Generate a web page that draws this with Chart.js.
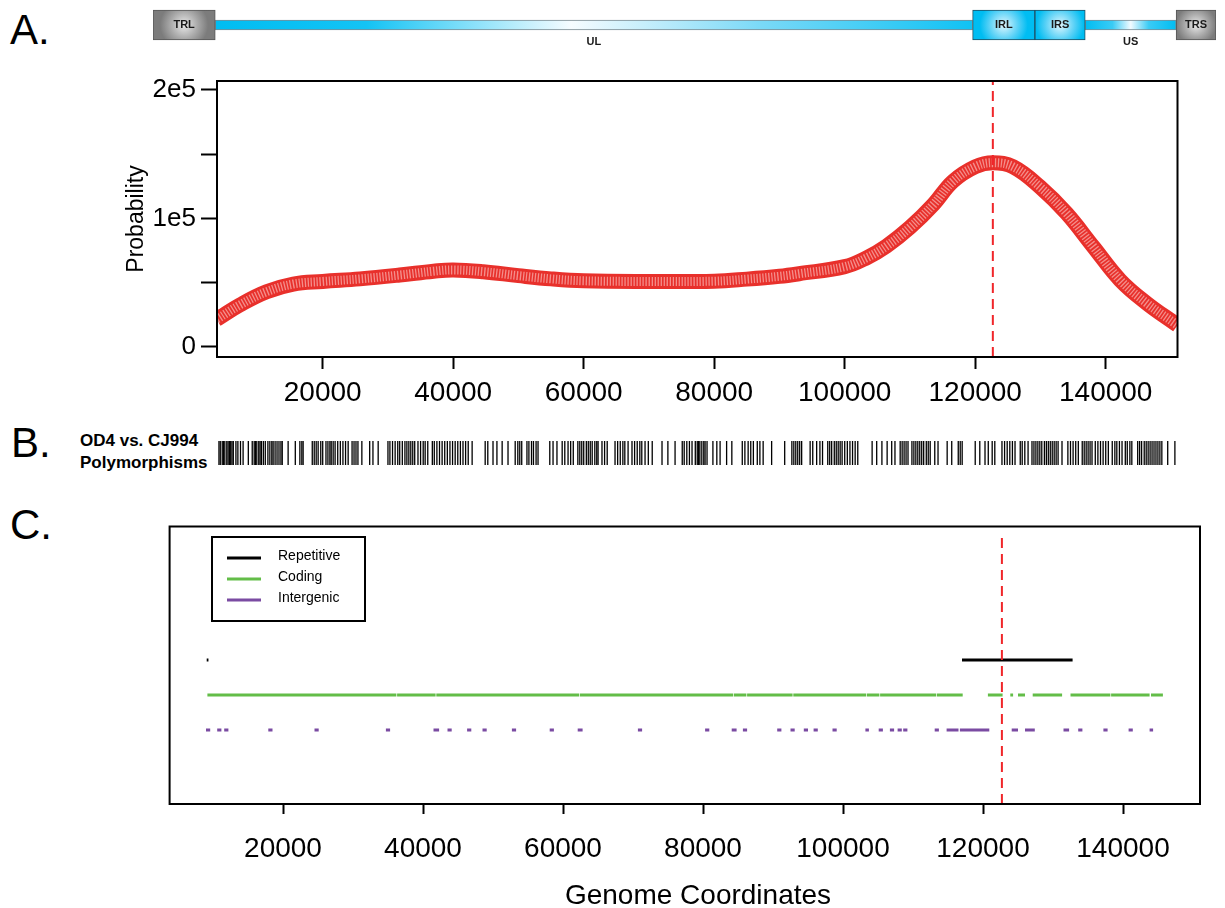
<!DOCTYPE html>
<html>
<head>
<meta charset="utf-8">
<script src="https://cdn.jsdelivr.net/npm/chart.js@4.4.1/dist/chart.umd.min.js"></script>
<style>
  html, body { margin: 0; padding: 0; background: #fff; }
  body { width: 1225px; height: 908px; position: relative; overflow: hidden; font-family: "Liberation Sans", Arial, sans-serif; }
  canvas { position: absolute; }
  .tag { position: absolute; font-size: 42px; line-height: 42px; color: #000; }
  .blabel { position: absolute; left: 80px; top: 430px; font-size: 17px; line-height: 22px; font-weight: bold; color: #000; }
</style>
</head>
<body>
<div class="tag" style="left:10px; top:9px">A.</div>
<div class="tag" style="left:11px; top:422px">B.</div>
<div class="tag" style="left:10px; top:504px">C.</div>
<div class="blabel">OD4 vs. CJ994<br>Polymorphisms</div>
<canvas id="mapChart" width="1085" height="50" style="left:140px; top:0px"></canvas>
<canvas id="densityChart" width="1225" height="360" style="left:0px; top:60px"></canvas>
<canvas id="polyChart" width="1225" height="60" style="left:0px; top:425px"></canvas>
<canvas id="featureChart" width="1225" height="388" style="left:0px; top:520px"></canvas>
<script>
// genome map (schematic, bp)
const mapRegions = ['TRL', 'UL', 'IRL', 'IRS', 'US', 'TRS'];
const mapEdges = [0, 8900, 117200, 126100, 133300, 146300, 152000];
const mapKinds = ['terminal', 'unique', 'inverted', 'inverted', 'unique', 'terminal'];

// density curve
const densityX = [3800, 4000, 7300, 11400, 15500, 20000, 25700, 31800, 37000, 40000, 44600, 50000, 55000, 60000,
                  70000, 80000, 85000, 90000, 93000, 100000, 103400, 106400, 110000, 113600, 116600, 120000,
                  122700, 125800, 129900, 134000, 138100, 142200, 146300, 150600, 151000];
const densityY = [21800, 22300, 32700, 43000, 49000, 51000, 53000, 56000, 59000, 60000, 58600, 55500, 53000, 51500,
                  51000, 51200, 52800, 55000, 57000, 62500, 69500, 78500, 93000, 111000, 129000, 140300,
                  143400, 140300, 124700, 104000, 78000, 52100, 34000, 18400, 17000];

const probTicks = [0, 50000, 100000, 150000, 200000];
const probTickLabels = ['0', '', '1e5', '', '2e5'];
const coordTicks = [20000, 40000, 60000, 80000, 100000, 120000, 140000];
const coordTickLabels = ['20000', '40000', '60000', '80000', '100000', '120000', '140000'];
const cutSite = 122700;

// polymorphism positions (kb), panel B
const polyKb = [4.1, 4.3, 4.6, 4.8, 5.0, 5.3, 5.5, 5.7, 5.9, 6.1, 6.3, 6.7, 7.0, 7.4, 7.8, 8.6, 9.2, 9.5, 9.7, 9.9,
  10.2, 10.4, 10.6, 10.9, 11.2, 11.6, 11.9, 12.2, 12.4, 12.7, 13.0, 13.3, 13.6, 13.8, 14.7, 15.8, 16.5, 16.8, 17.0,
  18.4, 18.7, 19.0, 19.3, 19.7, 20.0, 20.5, 20.8, 21.1, 21.3, 21.6, 21.9, 22.3, 22.7, 23.1, 23.5, 23.9, 24.5, 24.8,
  25.1, 25.4, 26.0, 27.2, 27.7, 28.5, 30.0, 30.3, 30.7, 31.1, 31.5, 31.8, 32.2, 32.6, 32.9, 33.2, 33.5, 33.8, 34.1,
  34.6, 35.0, 35.4, 35.7, 36.1, 36.8, 37.1, 37.5, 37.9, 38.3, 38.7, 39.1, 39.5, 39.9, 40.3, 40.7, 41.1, 41.5, 41.9,
  42.3, 42.9, 44.9, 45.3, 46.1, 46.7, 47.5, 48.4, 49.5, 49.9, 50.2, 50.5, 51.3, 51.6, 52.0, 52.3, 52.7, 53.0, 54.8,
  55.3, 55.9, 56.7, 57.1, 57.6, 58.0, 58.4, 59.1, 59.4, 59.7, 60.0, 60.4, 60.7, 61.0, 61.3, 61.7, 62.0, 62.2, 62.8,
  63.2, 63.6, 64.8, 65.2, 65.6, 66.0, 66.3, 66.8, 67.4, 67.8, 68.2, 68.6, 68.9, 69.4, 69.9, 70.5, 72.0, 72.9, 74.0,
  75.1, 75.4, 75.8, 76.2, 76.6, 77.1, 77.4, 77.6, 77.8, 78.1, 78.4, 78.6, 78.9, 79.8, 80.4, 80.9, 81.9, 82.7, 84.3,
  84.7, 85.2, 85.6, 86.0, 86.6, 87.0, 87.5, 88.8, 90.8, 91.9, 92.2, 92.5, 92.8, 93.1, 93.4, 94.7, 95.1, 95.7, 96.2,
  96.6, 97.4, 97.7, 98.0, 98.4, 98.7, 99.0, 99.3, 99.6, 100.0, 100.4, 100.8, 101.2, 101.6, 102.0, 104.2, 104.9,
  105.7, 106.5, 107.2, 107.7, 108.5, 108.8, 109.1, 109.4, 109.7, 110.3, 110.6, 110.9, 111.2, 111.5, 111.8, 112.1,
  112.5, 112.8, 113.1, 113.8, 114.3, 115.7, 116.4, 117.4, 117.7, 118.0, 120.0, 120.7, 121.5, 122.0, 122.6, 123.0,
  124.1, 124.5, 124.9, 125.3, 125.7, 126.1, 126.9, 127.2, 127.6, 128.1, 128.7, 129.0, 129.3, 129.6, 129.9, 130.2,
  130.6, 130.9, 131.2, 131.5, 131.8, 132.1, 132.4, 132.7, 133.3, 134.2, 134.6, 135.0, 135.4, 135.8, 136.4, 136.7,
  137.0, 137.3, 137.6, 137.9, 138.4, 138.8, 139.2, 139.6, 140.0, 140.4, 141.0, 141.4, 141.7, 142.1, 142.5, 143.0,
  143.3, 143.7, 144.0, 144.9, 145.2, 145.5, 145.9, 146.2, 146.5, 146.8, 147.1, 147.4, 147.7, 148.0, 148.3, 148.6,
  149.5, 150.6];

// feature tracks, panel C: [start, end] in bp
const repetitive = [[9100, 9350], [117000, 132800]];
const coding = [[9200, 36200], [36300, 41800], [41900, 62300], [62400, 84300], [84400, 86200], [86300, 92800],
  [92900, 103300], [103400, 105200], [105300, 113300], [113400, 117100], [120700, 122800], [123900, 124300],
  [125000, 126000], [127100, 131300], [132500, 138200], [138300, 143800], [144000, 145700]];
const intergenic = [[9000, 9600], [10600, 11200], [11600, 12200], [17900, 18500], [24500, 25100], [34700, 35300],
  [41500, 42300], [43500, 44100], [46300, 46900], [48500, 49100], [52700, 53300], [58100, 58700], [62100, 62800],
  [70700, 71300], [80300, 80900], [84100, 84800], [85700, 86300], [90600, 91200], [92500, 93100], [94400, 95000],
  [95800, 96400], [98500, 99100], [103200, 103700], [105100, 105700], [106700, 107300], [107800, 108400],
  [108600, 109200], [113100, 113700], [114800, 115400], [115300, 115900], [115900, 116500], [116700, 120900],
  [124100, 125000], [126000, 127400], [131500, 132300], [133600, 134200], [137200, 137800], [140800, 141400],
  [143800, 144300]];
const trackRows = [3, 2, 1];

const FONT = "'Liberation Sans', Arial, sans-serif";
Chart.defaults.font.family = FONT;
Chart.defaults.color = '#000';

const boxPlugin = {
  id: 'plotBox',
  afterDraw(chart) {
    const a = chart.chartArea, c = chart.ctx;
    c.save();
    c.strokeStyle = '#000';
    c.lineWidth = 2;
    c.strokeRect(a.left, a.top, a.right - a.left, a.bottom - a.top);
    c.restore();
  }
};

const cutPlugin = {
  id: 'cutLine',
  afterDatasetsDraw(chart, args, opts) {
    const a = chart.chartArea, c = chart.ctx;
    const x = chart.scales.x.getPixelForValue(opts.value);
    const top = opts.top !== undefined ? chart.scales.y.getPixelForValue(opts.top) : a.top;
    c.save();
    c.strokeStyle = '#f0262a';
    c.lineWidth = 2;
    c.setLineDash([10, 6]);
    c.beginPath();
    c.moveTo(x, a.bottom);
    c.lineTo(x, top);
    c.stroke();
    c.restore();
  }
};

function axisX(height, pad, tickLen) {
  return {
    type: 'linear', min: 3800, max: 151000,
    afterBuildTicks: s => { s.ticks = coordTicks.map(v => ({ value: v })); },
    afterFit: s => { s.height = height; },
    ticks: { callback: (v, i) => coordTickLabels[i], font: { size: 28 }, color: '#000', padding: pad, maxRotation: 0, autoSkip: false },
    grid: { drawOnChartArea: false, drawTicks: true, tickLength: tickLen, tickColor: '#000', tickWidth: 2 },
    border: { color: '#000', width: 2 }
  };
}

// ---- genome map ----
function mapFill(c) {
  const chart = c.chart, area = chart.chartArea;
  if (!area || c.type !== 'data') return '#00bdf2';
  const ds = chart.data.datasets[c.datasetIndex];
  const x0 = chart.scales.x.getPixelForValue(c.raw[0]);
  const x1 = chart.scales.x.getPixelForValue(c.raw[1]);
  const cy = (area.top + area.bottom) / 2, cx = (x0 + x1) / 2;
  const g = chart.ctx;
  if (ds.kind === 'unique') {
    const lg = g.createLinearGradient(x0, 0, x1, 0);
    if (ds.label === 'UL') {
      lg.addColorStop(0, '#00bdf2'); lg.addColorStop(0.2, '#14c3f4'); lg.addColorStop(0.47, '#f6fcff');
      lg.addColorStop(0.72, '#7ad9f7'); lg.addColorStop(1, '#10c2f4');
    } else {
      lg.addColorStop(0, '#00bdf2'); lg.addColorStop(0.3, '#3acbf5'); lg.addColorStop(0.5, '#f2fbff');
      lg.addColorStop(0.7, '#3acbf5'); lg.addColorStop(1, '#00bdf2');
    }
    return lg;
  }
  const r = Math.min((x1 - x0) / 2, 24);
  const rg = g.createRadialGradient(cx, cy, 1, cx, cy, r);
  if (ds.kind === 'terminal') {
    rg.addColorStop(0, '#e4e4e4'); rg.addColorStop(0.55, '#a9a9a9'); rg.addColorStop(1, '#7c7c7c');
  } else {
    rg.addColorStop(0, '#d6f4fe'); rg.addColorStop(0.6, '#55d0f6'); rg.addColorStop(1, '#00bdf2');
  }
  return rg;
}

const mapLabels = {
  id: 'mapLabels',
  afterDatasetsDraw(chart) {
    const c = chart.ctx, a = chart.chartArea, cy = (a.top + a.bottom) / 2;
    c.save();
    c.font = 'bold 11px ' + FONT;
    c.fillStyle = '#1a1a1a';
    c.textAlign = 'center';
    c.textBaseline = 'middle';
    chart.data.datasets.forEach(ds => {
      const [s, e] = ds.data[0];
      const x = chart.scales.x.getPixelForValue((s + e) / 2);
      c.fillText(ds.label, x, ds.kind === 'unique' ? cy + 17 : cy);
    });
    c.restore();
  }
};

new Chart(document.getElementById('mapChart'), {
  type: 'bar',
  data: {
    labels: ['genome'],
    datasets: mapRegions.map((name, i) => ({
      label: name,
      kind: mapKinds[i],
      data: [[mapEdges[i], mapEdges[i + 1]]],
      barThickness: mapKinds[i] === 'unique' ? 10 : 30,
      grouped: false,
      backgroundColor: mapFill,
      borderColor: mapKinds[i] === 'terminal' ? '#565656' : (mapKinds[i] === 'inverted' ? '#1e4d60' : 'rgba(80,100,110,0.75)'),
      borderWidth: 1,
      borderSkipped: false
    }))
  },
  options: {
    indexAxis: 'y', responsive: false, animation: false, events: [],
    layout: { padding: { left: 13, right: 9, top: 0, bottom: 0 } },
    scales: { x: { type: 'linear', display: false, min: 0, max: 152000 }, y: { display: false } },
    plugins: { legend: { display: false }, tooltip: { enabled: false } }
  },
  plugins: [mapLabels]
});

// ---- panel A: density ----
// base band first (order 1 sits underneath), ring texture on top (order 0)
new Chart(document.getElementById('densityChart'), {
  type: 'line',
  data: {
    datasets: [
      { data: densityX.map((x, i) => ({ x: x, y: densityY[i] })), order: 1,
        borderColor: '#e8302b', borderWidth: 15, pointRadius: 0, tension: 0.4, clip: 0 },
      { data: densityX.map((x, i) => ({ x: x, y: densityY[i] })), order: 0,
        borderColor: 'rgba(255,235,235,0.5)', borderWidth: 9, borderDash: [1.3, 1.7], pointRadius: 0, tension: 0.4, clip: 0 }
    ]
  },
  options: {
    responsive: false, animation: false, events: [],
    layout: { padding: { left: 0, right: 47.5, top: 21, bottom: 0 } },
    plugins: { legend: { display: false }, tooltip: { enabled: false }, cutLine: { value: cutSite } },
    scales: {
      x: axisX(63, 7, 12),
      y: {
        min: -7800, max: 207000,
        afterBuildTicks: s => { s.ticks = probTicks.map(v => ({ value: v })); },
        afterFit: s => { s.width = 217; },
        ticks: { callback: (v, i) => probTickLabels[i], font: { size: 26 }, color: '#000', padding: 5, autoSkip: false },
        grid: { drawOnChartArea: false, drawTicks: true, tickLength: 16, tickColor: '#000', tickWidth: 2 },
        border: { color: '#000', width: 2 },
        title: { display: true, text: 'Probability', font: { size: 23 }, color: '#000', padding: { top: 123, bottom: 0 } }
      }
    }
  },
  plugins: [boxPlugin, cutPlugin]
});

// ---- panel B: polymorphisms ----
new Chart(document.getElementById('polyChart'), {
  type: 'scatter',
  data: {
    datasets: [{
      data: polyKb.map(k => ({ x: k * 1000, y: 0.5 })),
      pointStyle: 'line', pointRotation: 90, pointRadius: 12,
      pointBorderColor: '#000', pointBorderWidth: 1.3, pointBackgroundColor: '#000'
    }]
  },
  options: {
    responsive: false, animation: false, events: [],
    layout: { padding: { left: 217, right: 47.5, top: 16, bottom: 20 } },
    scales: { x: { type: 'linear', display: false, min: 3800, max: 151000 }, y: { display: false, min: 0, max: 1 } },
    plugins: { legend: { display: false }, tooltip: { enabled: false } }
  }
});

// ---- panel C: feature tracks ----
function segData(list, row) {
  const out = [];
  list.forEach(([a, b]) => { out.push({ x: a, y: row }, { x: b, y: row }, { x: b, y: null }); });
  return out;
}

const legendPlugin = {
  id: 'trackLegend',
  afterDraw(chart) {
    const c = chart.ctx;
    c.save();
    c.strokeStyle = '#000';
    c.lineWidth = 2;
    c.strokeRect(212, 17, 153, 84);
    const rows = [38, 59, 80];
    c.font = '14px ' + FONT;
    c.textBaseline = 'middle';
    chart.data.datasets.forEach((ds, i) => {
      c.strokeStyle = ds.borderColor;
      c.lineWidth = 3;
      c.beginPath();
      c.moveTo(227, rows[i]);
      c.lineTo(261, rows[i]);
      c.stroke();
      c.fillStyle = '#000';
      c.fillText(ds.label, 278, rows[i] - 1.5);
    });
    c.font = '28px ' + FONT;
    c.textAlign = 'center';
    c.fillText('Genome Coordinates', 698, 376);
    c.restore();
  }
};

new Chart(document.getElementById('featureChart'), {
  type: 'line',
  data: {
    datasets: [
      { label: 'Repetitive', data: segData(repetitive, trackRows[0]), borderColor: '#000000', borderWidth: 3, pointRadius: 0, spanGaps: false },
      { label: 'Coding', data: segData(coding, trackRows[1]), borderColor: '#63bd48', borderWidth: 3, pointRadius: 0, spanGaps: false },
      { label: 'Intergenic', data: segData(intergenic, trackRows[2]), borderColor: '#7a4ba2', borderWidth: 3, pointRadius: 0, spanGaps: false }
    ]
  },
  options: {
    responsive: false, animation: false, events: [],
    layout: { padding: { left: 169.6, right: 25, top: 6.5, bottom: 0 } },
    plugins: { legend: { display: false }, tooltip: { enabled: false }, cutLine: { value: cutSite, top: 6.6 } },
    scales: {
      x: axisX(104, 18, 10),
      y: { display: false, min: -1.114, max: 6.814 }
    }
  },
  plugins: [boxPlugin, cutPlugin, legendPlugin]
});
</script>
</body>
</html>
